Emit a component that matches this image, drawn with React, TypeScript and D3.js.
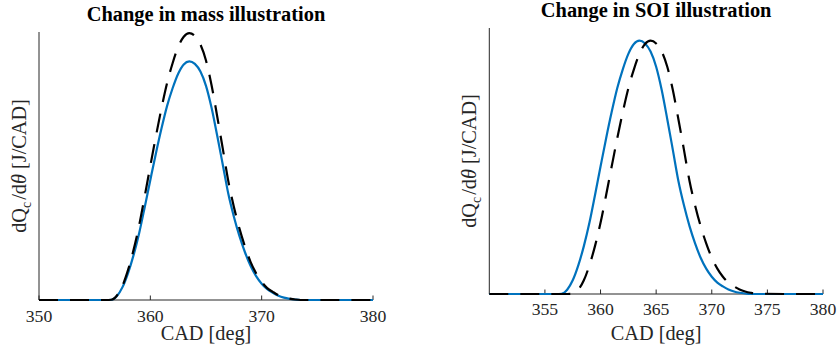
import React from "react";
import * as d3 from "d3";

// crank angle grid (deg)
const cad = [350, 353, 356, 356.5, 357, 357.5, 358, 358.5, 359, 359.5, 360, 360.5, 361, 361.5, 362, 362.5, 363, 363.5, 364, 364.5, 365, 365.5, 366, 366.5, 367, 367.5, 368, 368.5, 369, 369.5, 370, 370.5, 371, 371.5, 372, 372.5, 373, 373.5, 374, 377, 380];

// reference heat release rate (normalised)
const baseline = [0, 0, 0, 0.001, 0.017, 0.054, 0.113, 0.189, 0.281, 0.39, 0.503, 0.614, 0.718, 0.812, 0.887, 0.948, 0.987, 1.0, 0.989, 0.957, 0.897, 0.805, 0.69, 0.569, 0.446, 0.35, 0.268, 0.2, 0.143, 0.1, 0.068, 0.045, 0.03, 0.018, 0.01, 0.005, 0.002, 0, 0, 0, 0];

// changed fuel mass
const massChange = [0, 0, 0, 0.001, 0.019, 0.06, 0.126, 0.211, 0.314, 0.436, 0.562, 0.686, 0.803, 0.908, 0.992, 1.06, 1.103, 1.118, 1.106, 1.07, 1.003, 0.9, 0.771, 0.636, 0.499, 0.391, 0.3, 0.224, 0.16, 0.112, 0.076, 0.05, 0.034, 0.02, 0.011, 0.006, 0.002, 0, 0, 0, 0];

// changed start of injection
const soiChange = [0, 0, 0, 0, 0, 0.001, 0.017, 0.054, 0.113, 0.189, 0.281, 0.39, 0.503, 0.614, 0.718, 0.812, 0.887, 0.948, 0.987, 1.0, 0.989, 0.957, 0.897, 0.805, 0.69, 0.569, 0.446, 0.35, 0.268, 0.2, 0.143, 0.1, 0.068, 0.045, 0.03, 0.018, 0.01, 0.005, 0.002, 0, 0];

const leftTicks = [350, 360, 370, 380];
const rightTicks = [355, 360, 365, 370, 375, 380];

const BLUE = "#0072BD";
const AX = "#262626";
const FONT = "'Liberation Serif', 'Times New Roman', serif";

type Panel = {
  title: string;
  x0: number; x1: number; yTop: number; yBot: number;
  yMax: number; ticks: number[];
  dashed: number[];
  titleY: number; tickY: number; xlabelY: number; ylabelX: number;
};

const panels: Panel[] = [
  { title: "Change in mass illustration", x0: 39, x1: 373, yTop: 32, yBot: 300, yMax: 1.1227, ticks: leftTicks, dashed: massChange, titleY: 20.7, tickY: 321.7, xlabelY: 340, ylabelX: 26 },
  { title: "Change in SOI illustration", x0: 489.3, x1: 823, yTop: 28, yBot: 294, yMax: 1.05, ticks: rightTicks, dashed: soiChange, titleY: 16.7, tickY: 315, xlabelY: 340, ylabelX: 476 },
];

function PanelView({ p }: { p: Panel }) {
  const x = d3.scaleLinear().domain([350, 380]).range([p.x0, p.x1]);
  const y = d3.scaleLinear().domain([0, p.yMax]).range([p.yBot, p.yTop]);
  const line = d3.line<number>()
    .x((_, i) => x(cad[i]))
    .y((v) => y(v))
    .curve(d3.curveMonotoneX);
  const cx = (p.x0 + p.x1) / 2;
  const cy = (p.yTop + p.yBot) / 2;
  return (
    <g>
      {/* axes */}
      <line x1={p.x0} x2={p.x0} y1={p.yTop} y2={p.yBot} stroke={AX} strokeWidth={1} />
      <line x1={p.x0} x2={p.x1} y1={p.yBot} y2={p.yBot} stroke={AX} strokeWidth={1} />
      {p.ticks.map((t) => (
        <g key={t}>
          <line x1={x(t)} x2={x(t)} y1={p.yBot} y2={p.yBot - 4.5} stroke={AX} strokeWidth={1} />
          <text x={x(t)} y={p.tickY} textAnchor="middle" fontSize={17.7} fontFamily={FONT} fill={AX}>{t}</text>
        </g>
      ))}
      {/* curves */}
      <path d={line(baseline) || ""} fill="none" stroke={BLUE} strokeWidth={2.2} />
      <path d={line(p.dashed) || ""} fill="none" stroke="#000" strokeWidth={2.2} strokeDasharray="19,12" />
      {/* labels */}
      <text x={cx} y={p.titleY} textAnchor="middle" fontSize={20.4} fontWeight="bold" fontFamily={FONT} fill="#000">{p.title}</text>
      <text x={cx} y={p.xlabelY} textAnchor="middle" fontSize={20.3} fontFamily={FONT} fill={AX}>CAD [deg]</text>
      <text transform={`translate(${p.ylabelX},${cy}) rotate(-90)`} textAnchor="middle" fontSize={20.3} fontFamily={FONT} fill={AX}>
        dQ<tspan fontSize={14} dy={5}>c</tspan><tspan dy={-5} dx={2}>/d</tspan><tspan fontStyle="italic">θ</tspan> [J/CAD]
      </text>
    </g>
  );
}

export default function App() {
  return (
    <svg width={839} height={350} style={{ position: "absolute", left: 0, top: 0, background: "#fff" }}>
      <rect width={839} height={350} fill="#fff" />
      {panels.map((p) => <PanelView key={p.title} p={p} />)}
    </svg>
  );
}
